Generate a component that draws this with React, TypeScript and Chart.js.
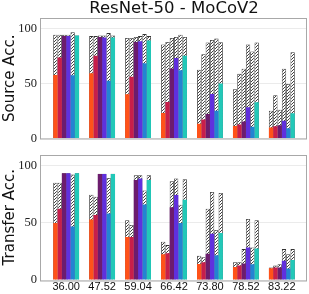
import React, { useEffect, useRef } from 'react';
import { Chart, registerables } from 'chart.js';
Chart.register(...registerables);

const categories = ['36.00', '47.52', '59.04', '66.42', '73.80', '78.52', '83.22'];
const yTicks = [0, 50, 100];
const seriesColors = ['#FF5219', '#C81E4B', '#6C1C6E', '#6030DE', '#2384D2', '#22C8B8'];

// Source accuracy: solid (achieved) values per series
const srcOrange = [58, 59.6, 40.4, 23.3, 13.5, 11.3, 10];
const srcCrimson = [74, 75.5, 56.3, 33.3, 17.4, 12.8, 11.2];
const srcPlum = [93.5, 92.6, 88.2, 64, 22.4, 15.6, 12.1];
const srcViolet = [93.5, 92.3, 88.8, 73.5, 40.7, 28.6, 16.2];
const srcBlue = [57.8, 52.8, 68.7, 62.2, 25.4, 10.8, 9.4];
const srcCyan = [94, 92.3, 89.4, 75.5, 50.2, 33, 23];
// Source accuracy: hatched (upper) values per series
const srcOrangeUp = [94.7, 93.5, 91.8, 85.8, 62.7, 45, 25.4];
const srcCrimsonUp = [94.7, 93.5, 91.8, 88.2, 77, 59, 39.5];
const srcPlumUp = [94.7, 94, 92.6, 91.8, 87.6, 63.7, 26.3];
const srcVioletUp = [94.7, 94, 93.5, 92.6, 90, 85.8, 63.7];
const srcBlueUp = [97, 96.2, 95.3, 94.7, 91.2, 79.4, 49.8];
const srcCyanUp = [94, 94, 93.5, 92.6, 87.9, 87.6, 78.8];

// Transfer accuracy: solid values per series
const trOrange = [50, 53, 37.6, 22.6, 14.1, 11.5, 10.3];
const trCrimson = [62.4, 57, 37.6, 23.5, 15.6, 12.6, 10.9];
const trPlum = [93.5, 93, 87.6, 63.8, 22.9, 14.4, 11];
const trViolet = [93.5, 93, 88.9, 74.4, 40.6, 28.5, 16.8];
const trBlue = [47, 58.2, 66.2, 50, 21.8, 13.8, 10];
const trCyan = [93.5, 93, 87.6, 70.3, 41.2, 27.6, 17.6];
// Transfer accuracy: hatched values per series
const trOrangeUp = [85.3, 74.7, 52.4, 33.5, 21.2, 15.6, 11];
const trCrimsonUp = [85.3, 73, 48.2, 30.6, 20, 15.6, 12.6];
const trPlumUp = [93.6, 93.1, 91.8, 86.5, 62.4, 27.1, 13.8];
const trVioletUp = [93.6, 93.1, 91.8, 88.9, 77.1, 53.5, 27.1];
const trBlueUp = [92.4, 89.4, 78.5, 65.9, 43.8, 28.5, 22.6];
const trCyanUp = [93.6, 93.1, 91.8, 88.2, 76.2, 52.4, 27.1];

const sourceSolid = [srcOrange, srcCrimson, srcPlum, srcViolet, srcBlue, srcCyan];
const sourceHatch = [srcOrangeUp, srcCrimsonUp, srcPlumUp, srcVioletUp, srcBlueUp, srcCyanUp];
const transferSolid = [trOrange, trCrimson, trPlum, trViolet, trBlue, trCyan];
const transferHatch = [trOrangeUp, trCrimsonUp, trPlumUp, trVioletUp, trBlueUp, trCyanUp];

function makeHatch(): CanvasPattern | string {
  const c = document.createElement('canvas');
  c.width = 3;
  c.height = 3;
  const g = c.getContext('2d');
  if (!g) return '#bbb';
  g.fillStyle = '#ffffff';
  g.fillRect(0, 0, 3, 3);
  g.strokeStyle = '#2a2a2a';
  g.lineWidth = 0.9;
  g.beginPath();
  g.moveTo(-1, 4); g.lineTo(4, -1);
  g.moveTo(-1, 1); g.lineTo(1, -1);
  g.moveTo(2, 4); g.lineTo(4, 2);
  g.stroke();
  return g.createPattern(c, 'repeat') || '#bbb';
}

const framePlugin = {
  id: 'frame',
  afterDatasetsDraw(chart: any) {
    const { left, top, right, bottom } = chart.chartArea;
    const ctx = chart.ctx;
    ctx.save();
    ctx.strokeStyle = '#a8a8a8';
    ctx.lineWidth = 1;
    ctx.strokeRect(Math.round(left) - 0.5, Math.round(top) + 0.5, Math.round(right - left), Math.round(bottom - top) - 0.5);
    ctx.restore();
  },
};

function buildConfig(solid: number[][], hatch: number[][], yTitle: string, isTop: boolean): any {
  const pattern = makeHatch();
  const datasets: any[] = [];
  solid.forEach((vals, k) => {
    datasets.push({
      label: 'S' + k,
      data: vals.map((y, i) => ({ x: i, y })),
      backgroundColor: seriesColors[k],
      borderWidth: 0,
      stack: 's' + k,
      order: 0,
      categoryPercentage: 0.72,
      barPercentage: 1,
    });
  });
  hatch.forEach((vals, k) => {
    datasets.push({
      label: 'H' + k,
      data: vals.map((y, i) => ({ x: i, y })),
      backgroundColor: pattern,
      borderColor: '#333333',
      borderWidth: 0.8,
      stack: 's' + k,
      order: 1,
      categoryPercentage: 0.72,
      barPercentage: 1,
    });
  });
  const xScale: any = {
    type: 'linear',
    min: -0.7,
    max: 6.7,
    offset: false,
    display: !isTop,
    grid: { display: false, offset: false, drawTicks: false, tickLength: 0 },
    border: { display: false },
    afterBuildTicks: (s: any) => { s.ticks = categories.map((_, i) => ({ value: i })); },
    ticks: {
      autoSkip: false,
      maxRotation: 0,
      padding: 0,
      color: '#111',
      font: { family: 'Liberation Sans', size: 11 },
      callback: (v: any) => categories[Math.round(Number(v))] ?? '',
    },
  };
  if (!isTop) xScale.afterFit = (s: any) => { s.height = 14; };
  return {
    type: 'bar',
    data: { datasets },
    plugins: [framePlugin],
    options: {
      animation: false,
      responsive: false,
      devicePixelRatio: 1,
      layout: { padding: isTop ? { top: 0, left: 0, right: 2, bottom: 7 } : { top: 5, left: 0, right: 2, bottom: 0 } },
      plugins: {
        legend: { display: false },
        tooltip: { enabled: false },
        title: {
          display: isTop,
          text: 'ResNet-50 - MoCoV2',
          fullSize: false,
          color: '#111',
          font: { family: 'DejaVu Sans', size: 16.5, weight: 'normal', lineHeight: '18px' },
          padding: 0,
        },
      },
      scales: {
        x: xScale,
        y: {
          min: 0,
          max: 110,
          stacked: false,
          afterBuildTicks: (s: any) => { s.ticks = yTicks.map((v) => ({ value: v })); },
          afterFit: (s: any) => { s.width = 41; },
          grid: { color: '#ebebeb', drawTicks: false, lineWidth: 1 },
          border: { display: false },
          ticks: {
            padding: 4,
            color: '#222',
            font: { family: 'Liberation Serif', size: 12.5 },
          },
          title: {
            display: true,
            text: yTitle,
            color: '#111',
            font: { family: 'DejaVu Sans', size: 15 },
            padding: { top: 1, bottom: 0 },
          },
        },
      },
    },
  };
}

function Panel(props: { solid: number[][]; hatch: number[][]; yTitle: string; isTop: boolean; top: number; height: number }) {
  const ref = useRef<HTMLCanvasElement | null>(null);
  useEffect(() => {
    if (!ref.current) return;
    const chart = new Chart(ref.current, buildConfig(props.solid, props.hatch, props.yTitle, props.isTop));
    return () => chart.destroy();
  }, []);
  return (
    <canvas
      ref={ref}
      width={309}
      height={props.height}
      style={{ position: 'absolute', left: 0, top: props.top, width: 309, height: props.height }}
    />
  );
}

export default function App() {
  return (
    <div style={{ position: 'absolute', left: 0, top: 0, width: 309, height: 294, background: '#fff' }}>
      <Panel solid={sourceSolid} hatch={sourceHatch} yTitle="Source Acc." isTop={true} top={0} height={150} />
      <Panel solid={transferSolid} hatch={transferHatch} yTitle="Transfer Acc." isTop={false} top={143} height={151} />
    </div>
  );
}
